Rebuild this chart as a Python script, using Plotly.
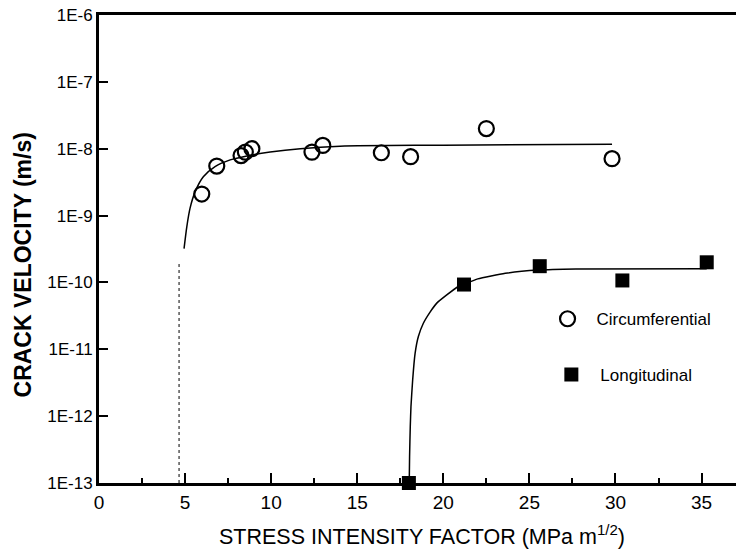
import plotly.graph_objects as go

# Measured data: circumferential specimens
circ_k = [5.97, 6.84, 8.25, 8.5, 8.88, 12.37, 13.0, 16.4, 18.1, 22.5, 29.8]
circ_v = [2.1e-9, 5.5e-9, 7.9e-9, 8.9e-9, 1.0e-8, 8.9e-9, 1.12e-8, 8.7e-9, 7.6e-9, 2.0e-8, 7.1e-9]

# Measured data: longitudinal specimens
long_k = [18.0, 21.2, 25.6, 30.4, 35.3]
long_v = [1.0e-13, 9.3e-11, 1.75e-10, 1.07e-10, 2.0e-10]

# Fitted curve: circumferential
circ_fit_k = [4.94, 5.10, 5.29, 5.58, 6.06, 6.74, 7.62, 8.59, 9.94, 11.69, 14.0, 20.0, 29.8]
circ_fit_v = [3.2e-10, 6.8e-10, 1.29e-9, 2.26e-9, 3.8e-9, 5.4e-9, 6.8e-9, 7.8e-9, 8.9e-9,
              1.0e-8, 1.09e-8, 1.13e-8, 1.17e-8]

# Fitted curve: longitudinal
long_fit_k = [18.02, 18.04, 18.08, 18.12, 18.22, 18.36, 18.55, 18.84, 19.23, 19.62, 20.2,
              20.87, 21.2, 22.0, 23.6, 25.5, 27.7, 35.3]
long_fit_v = [1.0e-13, 2.5e-13, 7.0e-13, 1.38e-12, 3.5e-12, 8.7e-12, 1.55e-11, 2.45e-11,
              3.6e-11, 4.9e-11, 6.5e-11, 8.7e-11, 9.4e-11, 1.13e-10, 1.37e-10, 1.53e-10,
              1.59e-10, 1.6e-10]

# Threshold dotted line
thresh_k = [4.65, 4.65]
thresh_v = [1.0e-13, 2.0e-10]

# Axis ticks
y_tickvals = [1e-13, 1e-12, 1e-11, 1e-10, 1e-9, 1e-8, 1e-7, 1e-6]
y_ticktext = ["1E-13", "1E-12", "1E-11", "1E-10", "1E-9", "1E-8", "1E-7", "1E-6"]
x_tickvals = [0, 5, 10, 15, 20, 25, 30, 35]

FONT = "Liberation Sans, Arial, sans-serif"

fig = go.Figure()

fig.add_trace(go.Scatter(x=thresh_k, y=thresh_v, mode="lines",
                         line=dict(color="black", width=1, dash="dot"),
                         showlegend=False, hoverinfo="skip"))
fig.add_trace(go.Scatter(x=circ_fit_k, y=circ_fit_v, mode="lines",
                         line=dict(color="black", width=1.5, shape="spline", smoothing=0.8),
                         showlegend=False, hoverinfo="skip"))
fig.add_trace(go.Scatter(x=long_fit_k, y=long_fit_v, mode="lines",
                         line=dict(color="black", width=1.5, shape="spline", smoothing=0.5),
                         showlegend=False, hoverinfo="skip"))
fig.add_trace(go.Scatter(x=circ_k, y=circ_v, mode="markers", name="Circumferential",
                         marker=dict(symbol="circle-open", size=15, color="black",
                                     line=dict(width=2.2, color="black")),
                         legend="legend"))
fig.add_trace(go.Scatter(x=long_k, y=long_v, mode="markers", name="Longitudinal",
                         marker=dict(symbol="square", size=14, color="black"),
                         legend="legend2", cliponaxis=False))

fig.update_layout(
    width=736, height=554,
    margin=dict(l=99, r=0, t=15, b=71, autoexpand=False),
    paper_bgcolor="white", plot_bgcolor="white",
    font=dict(family=FONT, color="black", size=17),
    xaxis=dict(
        range=[0, 37.0], tickvals=x_tickvals, ticks="inside", ticklen=10, tickwidth=2,
        tickcolor="black", showline=True, linecolor="black", linewidth=3, mirror=True,
        showgrid=False, zeroline=False, tickfont=dict(size=19), automargin=False,
        ticklabeloverflow="allow",
        minor=dict(dtick=2.5, tick0=0, ticks="inside", ticklen=5, tickwidth=2, tickcolor="black", showgrid=False),
    ),
    yaxis=dict(
        type="log", range=[-13, -6], tickvals=y_tickvals, ticktext=y_ticktext,
        ticks="inside", ticklen=9, tickwidth=2, tickcolor="black",
        showline=True, linecolor="black", linewidth=3, showgrid=False, zeroline=False,
        tickfont=dict(size=17), automargin=False, ticklabeloverflow="allow",
    ),
    annotations=[
        dict(text="<b>CRACK VELOCITY (m/s)</b>", xref="paper", yref="paper",
             x=-0.120, y=0.466, xanchor="center", yanchor="middle", textangle=-90,
             showarrow=False, font=dict(size=23)),
        dict(text="STRESS INTENSITY FACTOR (MPa m<sup>1/2</sup>)", xref="paper", yref="paper",
             x=0.507, y=-0.111, xanchor="center", yanchor="middle",
             showarrow=False, font=dict(size=21.5)),
    ],
    legend=dict(x=0.690, y=0.350, xanchor="left", yanchor="middle", bgcolor="rgba(0,0,0,0)",
                font=dict(size=17), itemwidth=48),
    legend2=dict(x=0.696, y=0.231, xanchor="left", yanchor="middle", bgcolor="rgba(0,0,0,0)",
                 font=dict(size=17), itemwidth=48),
)

fig.write_html("out.html", config={"displayModeBar": False},
               post_script="document.body.style.margin='0';document.body.style.overflow='hidden';")
